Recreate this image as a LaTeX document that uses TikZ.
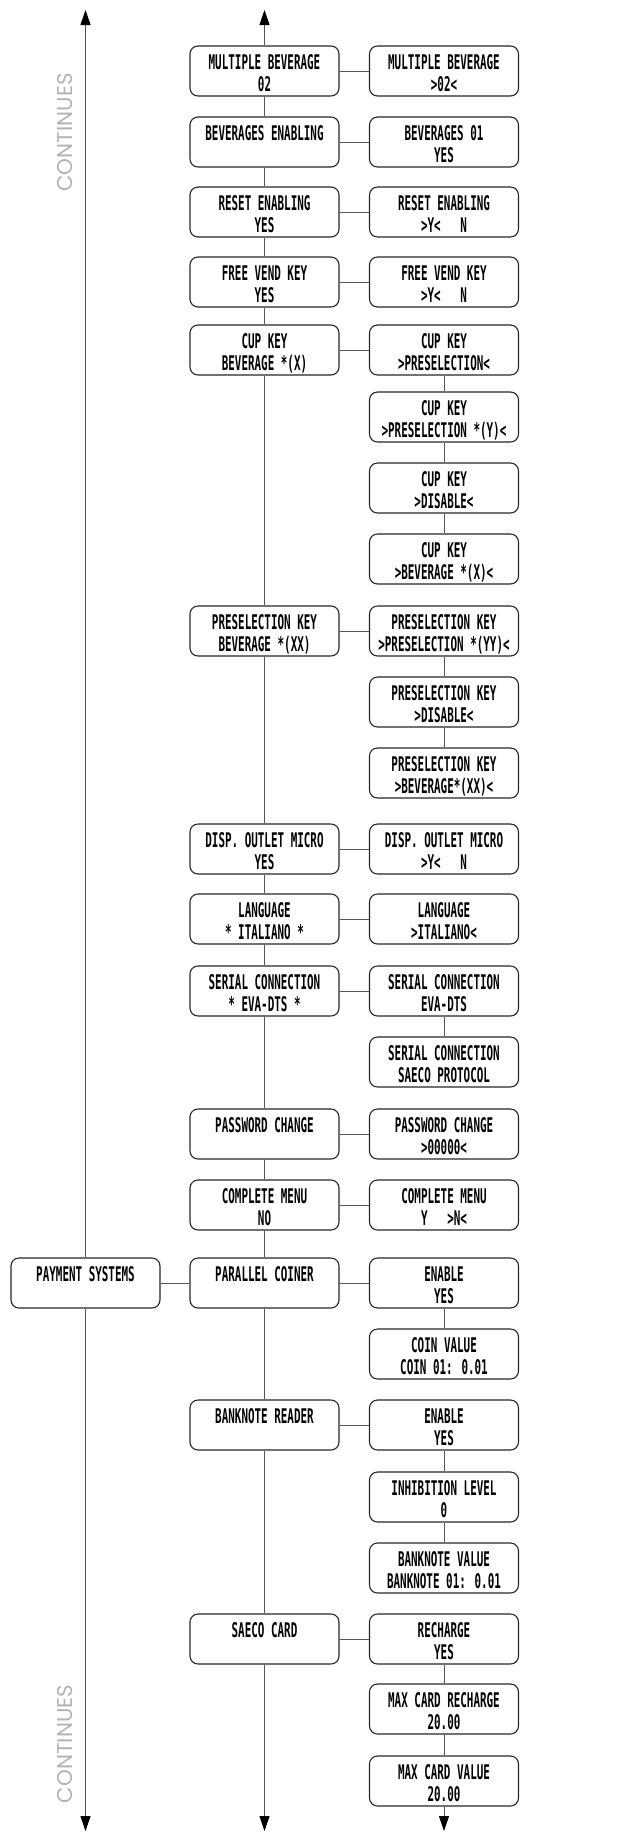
\documentclass[tikz,border=0pt]{standalone}
\usepackage{fontspec}
\usetikzlibrary{arrows.meta}
\newfontfamily\lcdfont[FakeStretch=0.54]{DejaVu Sans Mono Bold}
\newfontfamily\contfont{Poppins}
\definecolor{linegray}{RGB}{85,85,85}
\definecolor{contgray}{RGB}{178,178,178}
\tikzset{>={Triangle[length=15pt,width=10pt,color=black]},
  menu/.style={draw=black!85,line width=1.1pt,rounded corners=8pt,minimum width=149pt,minimum height=50pt,inner sep=0pt,
    align=center,text height=40pt,text depth=0pt,font=\lcdfont\fontsize{20.2}{21.7}\selectfont},
  link/.style={draw=linegray,line width=.9pt},
  cont/.style={rotate=90,text=contgray,font=\contfont\fontsize{21.4}{22}\selectfont}}

\begin{document}
\begin{tikzpicture}[x=1pt,y=-1pt]
\useasboundingbox (0,0) rectangle (621,1832);
% left column
\node[menu] (pay) at (85.5,1283) {PAYMENT SYSTEMS\\\mbox{}};
\node[cont] (conttop) at (65,132.5) {CONTINUES};
\node[cont] (contbot) at (65,1744) {CONTINUES};
% main menu
\node[menu] (m1) at (264.5,71) {MULTIPLE BEVERAGE\\02};
\node[menu] (m2) at (264.5,142) {BEVERAGES ENABLING\\\mbox{}};
\node[menu] (m3) at (264.5,212) {RESET ENABLING\\YES};
\node[menu] (m4) at (264.5,282) {FREE VEND KEY\\YES};
\node[menu] (m5) at (264.5,350) {CUP KEY\\BEVERAGE *(X)};
\node[menu] (m6) at (264.5,631) {PRESELECTION KEY\\BEVERAGE *(XX)};
\node[menu] (m7) at (264.5,849) {DISP. OUTLET MICRO\\YES};
\node[menu] (m8) at (264.5,919) {LANGUAGE\\* ITALIANO *};
\node[menu] (m9) at (264.5,991) {SERIAL CONNECTION\\* EVA-DTS *};
\node[menu] (m10) at (264.5,1134) {PASSWORD CHANGE\\\mbox{}};
\node[menu] (m11) at (264.5,1205) {COMPLETE MENU\\NO};
\node[menu] (m12) at (264.5,1283) {PARALLEL COINER\\\mbox{}};
\node[menu] (m13) at (264.5,1425) {BANKNOTE READER\\\mbox{}};
\node[menu] (m14) at (264.5,1639) {SAECO CARD\\\mbox{}};
% settings
\node[menu] (r1) at (444,71) {MULTIPLE BEVERAGE\\>02<};
\node[menu] (r2) at (444,142) {BEVERAGES 01\\YES};
\node[menu] (r3) at (444,212) {RESET ENABLING\\>Y<~~~N};
\node[menu] (r4) at (444,282) {FREE VEND KEY\\>Y<~~~N};
\node[menu] (r5a) at (444,350) {CUP KEY\\>PRESELECTION<};
\node[menu] (r5b) at (444,417) {CUP KEY\\>PRESELECTION *(Y)<};
\node[menu] (r5c) at (444,488) {CUP KEY\\>DISABLE<};
\node[menu] (r5d) at (444,559) {CUP KEY\\>BEVERAGE *(X)<};
\node[menu] (r6a) at (444,631) {PRESELECTION KEY\\>PRESELECTION *(YY)<};
\node[menu] (r6b) at (444,702) {PRESELECTION KEY\\>DISABLE<};
\node[menu] (r6c) at (444,773) {PRESELECTION KEY\\>BEVERAGE*(XX)<};
\node[menu] (r7) at (444,849) {DISP. OUTLET MICRO\\>Y<~~~N};
\node[menu] (r8) at (444,919) {LANGUAGE\\>ITALIANO<};
\node[menu] (r9a) at (444,991) {SERIAL CONNECTION\\EVA-DTS};
\node[menu] (r9b) at (444,1062) {SERIAL CONNECTION\\SAECO PROTOCOL};
\node[menu] (r10) at (444,1134) {PASSWORD CHANGE\\>00000<};
\node[menu] (r11) at (444,1205) {COMPLETE MENU\\Y~~~>N<};
\node[menu] (r12a) at (444,1283) {ENABLE\\YES};
\node[menu] (r12b) at (444,1354) {COIN VALUE\\COIN 01: 0.01};
\node[menu] (r13a) at (444,1425) {ENABLE\\YES};
\node[menu] (r13b) at (444,1497) {INHIBITION LEVEL\\0};
\node[menu] (r13c) at (444,1568) {BANKNOTE VALUE\\BANKNOTE 01: 0.01};
\node[menu] (r14a) at (444,1639) {RECHARGE\\YES};
\node[menu] (r14b) at (444,1709) {MAX CARD RECHARGE\\20.00};
\node[menu] (r14c) at (444,1781) {MAX CARD VALUE\\20.00};
% arrow ends
\coordinate (ltop) at (85.5,10);\coordinate (lbot) at (85.5,1831);
\coordinate (mtop) at (264.5,10);\coordinate (mbot) at (264.5,1831);
\coordinate (rbot) at (444,1831);
% connectors
\draw[link,->] (pay)--(ltop);\draw[link,->] (pay)--(lbot);
\draw[link,->] (m1)--(mtop);\draw[link,->] (m14)--(mbot);\draw[link,->] (r14c)--(rbot);
\draw[link] (m1)--(m2)--(m3)--(m4)--(m5)--(m6)--(m7)--(m8)--(m9)--(m10)--(m11)--(m12)--(m13)--(m14);
\draw[link] (pay)--(m12);
\foreach \a/\b in {m1/r1,m2/r2,m3/r3,m4/r4,m5/r5a,m6/r6a,m7/r7,m8/r8,m9/r9a,m10/r10,m11/r11,m12/r12a,m13/r13a,m14/r14a}
  \draw[link] (\a)--(\b);
\draw[link] (r5a)--(r5b)--(r5c)--(r5d);\draw[link] (r6a)--(r6b)--(r6c);\draw[link] (r9a)--(r9b);
\draw[link] (r12a)--(r12b);\draw[link] (r13a)--(r13b)--(r13c);\draw[link] (r14a)--(r14b)--(r14c);
\end{tikzpicture}
\end{document}
